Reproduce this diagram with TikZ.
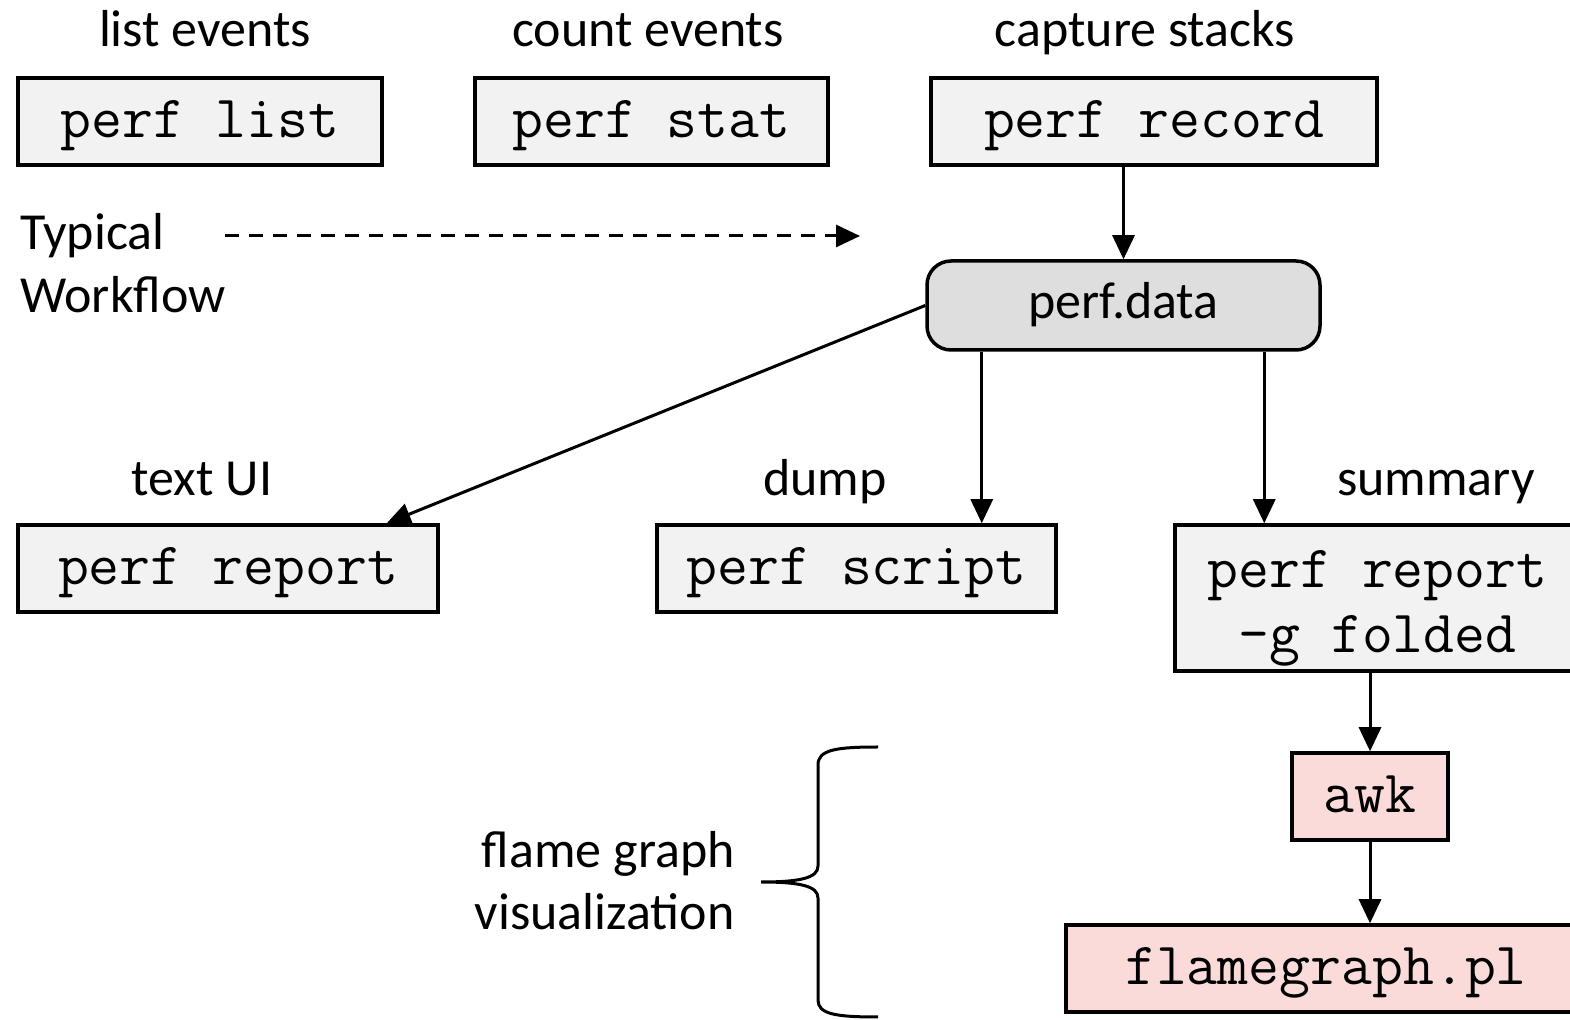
\documentclass[tikz,border=0pt]{standalone}
\usepackage{fontspec}
\setmainfont{Carlito}
\usetikzlibrary{arrows.meta}
\definecolor{boxgray}{HTML}{F2F2F2}
\definecolor{datagray}{HTML}{DEDEDE}
\definecolor{flamepink}{HTML}{FADBDA}

\begin{document}
\begin{tikzpicture}[x=0.5pt,y=-0.5pt,
  cmd/.style={draw, line width=1.75pt, fill=boxgray, minimum height=43.5pt, inner sep=0pt,
    text height=20pt, text depth=3.5pt, font=\fontsize{30}{32.5}\selectfont\ttfamily},
  lbl/.style={font=\fontsize{26}{31.5}\selectfont, anchor=base, inner sep=0pt},
  arr/.style={line width=1.5pt, -{Triangle[length=12pt,width=11pt]}}]
\clip (0,0) rectangle (1570,1020);

% top row: the three perf commands
\node[lbl] (llist) at (205,47) {list events};
\node[lbl] (lstat) at (648,47) {count events};
\node[lbl] (lrecord) at (1145,47) {capture stacks};
\node[cmd, minimum width=182pt] (plist) at (200,121.5) {perf list};
\node[cmd, minimum width=176.5pt] (pstat) at (651.5,121.5) {perf stat};
\node[cmd, minimum width=223pt] (precord) at (1154,121.5) {perf record};

% last line of a two-line label sits on the base anchor
\node[lbl, anchor=base west, align=left] (wflow) at (20,313) {Typical\\Workflow};
\coordinate (wfa) at (225,236);
\coordinate (wfb) at (860,236);
\draw[arr, dash pattern=on 7pt off 5pt] (wfa) -- (wfb);

\node[cmd, fill=datagray, rounded corners=12pt, minimum width=196.5pt, minimum height=44.5pt,
  text height=18pt, text depth=5pt, font=\fontsize{26}{31.5}\selectfont] (pdata) at (1123.5,305.5) {perf.data};
\draw[arr] (precord.south -| pdata.north) -- (pdata.north);

% consumers of perf.data
\node[lbl] (lreport) at (202,496) {text UI};
\node[lbl] (lscript) at (825,496) {dump};
\node[lbl] (lfolded) at (1436,496) {summary};
\node[cmd, minimum width=210pt] (preport) at (228,568.5) {perf report};
\node[cmd, minimum width=199.5pt] (pscript) at (856.5,568.5) {perf script};
\node[cmd, minimum width=202.5pt, minimum height=73pt, align=center, text height=58.5pt, text depth=3.5pt]
  (pfolded) at (1377.5,598) {perf report\\-g folded};
\coordinate (dumpin) at ([xshift=-38pt]pscript.north east);
\coordinate (sumin) at ([xshift=45.5pt]pfolded.north west);
\draw[arr] (pdata.west) -- ([xshift=-26.5pt]preport.north east);
\draw[arr] (dumpin |- pdata.south) -- (dumpin);
\draw[arr] (sumin |- pdata.south) -- (sumin);

% flame graph pipeline
\node[cmd, fill=flamepink, minimum width=78pt] (awk) at (1370,796.5) {awk};
\node[cmd, fill=flamepink, minimum width=260pt] (fgpl) at (1326,968.5) {flamegraph.pl};
\draw[arr] (pfolded.south -| awk.north) -- (awk.north);
\draw[arr] (awk.south) -- (awk.south |- fgpl.north);

\node[lbl, anchor=base east, align=right] (fgviz) at (735,930) {flame graph\\visualization};
\draw[line width=1.5pt] (878,747) .. controls (835,747) and (818,750) .. (818,765) -- (818,866)
  .. controls (818,878) and (800,882) .. (761,882)
  .. controls (800,882) and (818,886) .. (818,898) -- (818,1000)
  .. controls (818,1014) and (835,1017) .. (878,1017);
\end{tikzpicture}
\end{document}
